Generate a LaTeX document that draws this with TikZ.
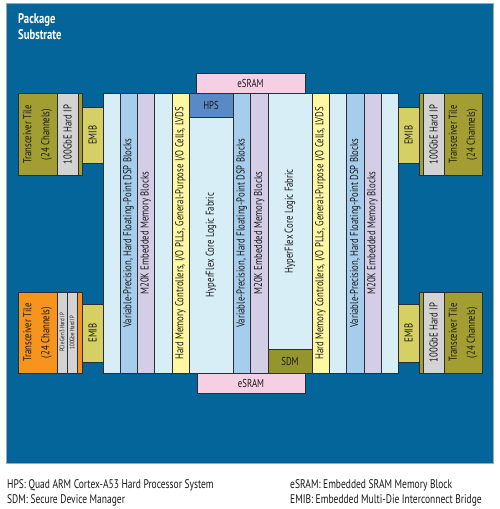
\documentclass[tikz,border=0pt]{standalone}
\usepackage{fontspec}
\setmainfont[FakeStretch=0.76]{PT Sans}
\definecolor{subst}{RGB}{3,101,154}
\definecolor{fabric}{RGB}{215,238,246}
\definecolor{dsp}{RGB}{166,205,236}
\definecolor{mem}{RGB}{211,205,230}
\definecolor{io}{RGB}{255,247,161}
\definecolor{hps}{RGB}{90,138,198}
\definecolor{sdm}{RGB}{150,148,44}
\definecolor{esram}{RGB}{245,207,227}
\definecolor{xcvr}{RGB}{163,158,50}
\definecolor{xcvro}{RGB}{247,148,30}
\definecolor{hardip}{RGB}{211,211,211}
\definecolor{emib}{RGB}{214,208,100}
\definecolor{edge}{RGB}{40,45,55}
\definecolor{txt}{RGB}{25,25,25}
\newcommand\colfont{\fontsize{11.5}{12}\selectfont}
\newcommand\vblk[7]{\node[blk,rotate=90,fill=#6,minimum width={(#5-#3)*1pt},minimum height={(#4-#2)*1pt}] (#1) at ({(#2+#4)/2},{(#3+#5)/2}) {#7};}
\newcommand\hblk[7]{\node[blk,fill=#6,minimum width={(#4-#2)*1pt},minimum height={(#5-#3)*1pt}] (#1) at ({(#2+#4)/2},{(#3+#5)/2}) {#7};}
\begin{document}
\begin{tikzpicture}[x=1pt,y=-1pt,
  blk/.style={draw=edge,line width=0.6pt,inner sep=0pt,font=\colfont,text=txt,align=center},
  legend/.style={anchor=base west,inner sep=0pt,font=\fontsize{12.5}{14}\selectfont,text=txt}]
\useasboundingbox (0,0) rectangle (500,509);
\fill[white] (0,0) rectangle (500,509);
\node[draw=gray!70,line width=0.8pt,fill=subst,minimum width=487pt,minimum height=460pt,inner sep=0pt] (substrate) at (249.5,233) {};
\node[anchor=north west,align=left,text=white,inner sep=0pt,font=\bfseries\fontsize{14}{16}\selectfont] (sublabel) at (18,13) {Package\\Substrate};
% eSRAM
\hblk{esramtop}{196}{73}{305}{93.5}{esram}{eSRAM}
\hblk{esrambot}{197}{373}{305}{393.5}{esram}{eSRAM}
% die columns
\vblk{c1}{103}{93.5}{120}{373}{fabric}{}
\vblk{c2}{120}{93.5}{137}{373}{dsp}{Variable-Precision, Hard Floating-Point DSP Blocks}
\vblk{c3}{137}{93.5}{154.5}{373}{mem}{M20K Embedded Memory Blocks}
\vblk{c4}{154.5}{93.5}{172}{373}{fabric}{}
\vblk{c5}{172}{93.5}{189}{373}{io}{Hard Memory Controllers, I/O PLLs, General-Purpose I/O Cells, LVDS}
\hblk{hpsb}{189}{93.5}{233}{117}{hps}{HPS}
\vblk{c6}{189}{117}{233}{373}{fabric}{HyperFlex Core Logic Fabric}
\vblk{c7}{233}{93.5}{250.5}{373}{dsp}{Variable-Precision, Hard Floating-Point DSP Blocks}
\vblk{c8}{250.5}{93.5}{268}{373}{mem}{M20K Embedded Memory Blocks}
\vblk{c9}{268}{93.5}{312}{349}{fabric}{HyperFlex Core Logic Fabric}
\hblk{sdmb}{268}{349}{312}{373}{sdm}{SDM}
\vblk{c10}{312}{93.5}{329}{373}{io}{Hard Memory Controllers, I/O PLLs, General-Purpose I/O Cells, LVDS}
\vblk{c11}{329}{93.5}{346.5}{373}{fabric}{}
\vblk{c12}{346.5}{93.5}{364}{373}{dsp}{Variable-Precision, Hard Floating-Point DSP Blocks}
\vblk{c13}{364}{93.5}{381}{373}{mem}{M20K Embedded Memory Blocks}
\vblk{c14}{381}{93.5}{398}{373}{fabric}{}
% left top tile
\vblk{tlA}{18}{93.5}{82}{175.5}{xcvr}{}
\vblk{tlAx}{18}{93.5}{57}{175.5}{xcvr}{Transceiver Tile\\[6pt](24 Channels)}
\vblk{tlAip}{57}{93.5}{78}{175.5}{hardip}{100GbE Hard IP}
\vblk{emibA}{82}{107}{103}{163.5}{emib}{EMIB}
% left bottom tile
\vblk{tlB}{18}{292}{82}{373}{xcvro}{}
\vblk{tlBx}{18}{292}{57}{373}{xcvro}{Transceiver Tile\\[6pt](24 Channels)}
\vblk{tlBip1}{57}{292}{67}{373}{hardip}{\fontsize{6.5}{7}\selectfont PCIe Gen3 Hard IP}
\vblk{tlBip2}{67}{292}{77}{373}{hardip}{\fontsize{6.5}{7}\selectfont 100Gbe Hard IP}
\vblk{emibB}{82}{304}{103}{362}{emib}{EMIB}
% right top tile
\vblk{emibC}{398}{107}{419}{163.5}{emib}{EMIB}
\vblk{trA}{419}{93.5}{482}{175.5}{xcvr}{}
\vblk{trAip}{423}{93.5}{444}{175.5}{hardip}{100GbE Hard IP}
\vblk{trAx}{444}{93.5}{482}{175.5}{xcvr}{Transceiver Tile\\[6pt](24 Channels)}
% right bottom tile
\vblk{emibD}{398}{304}{419}{362}{emib}{EMIB}
\vblk{trB}{419}{292}{482}{373}{xcvr}{}
\vblk{trBip}{423}{292}{444}{373}{hardip}{100GbE Hard IP}
\vblk{trBx}{444}{292}{482}{373}{xcvr}{Transceiver Tile\\[6pt](24 Channels)}
% legend
\node[legend] (lg1) at (7,488) {HPS: Quad ARM Cortex-A53 Hard Processor System};
\node[legend] (lg2) at (7,503) {SDM: Secure Device Manager};
\node[legend] (lg3) at (290,488) {eSRAM: Embedded SRAM Memory Block};
\node[legend] (lg4) at (290,503) {EMIB: Embedded Multi-Die Interconnect Bridge};
\end{tikzpicture}
\end{document}
